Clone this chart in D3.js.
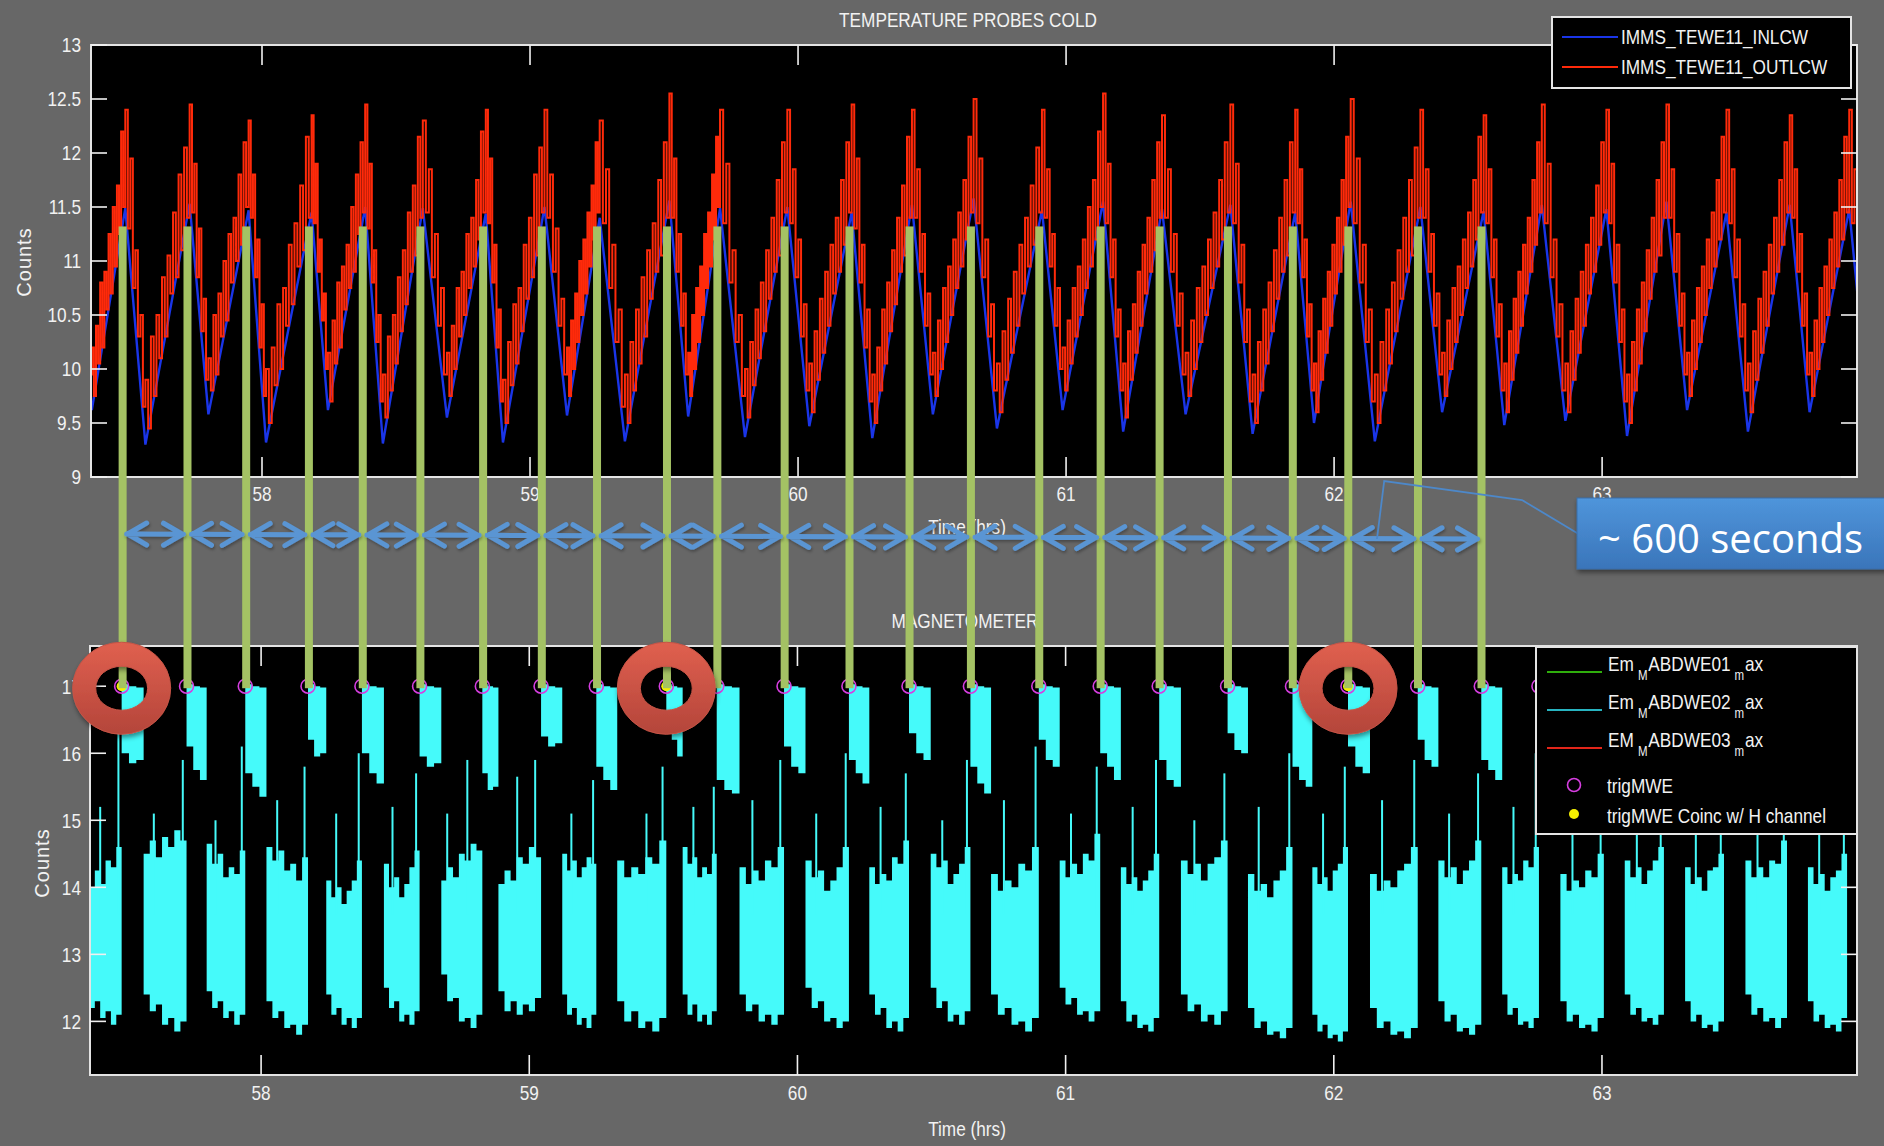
<!DOCTYPE html>
<html>
<head>
<meta charset="utf-8">
<script src="https://cdn.jsdelivr.net/npm/d3@7"></script>
<style>
  html, body { margin: 0; padding: 0; background: #676767; }
  svg { display: block; }
</style>
</head>
<body>
<svg id="chart" width="1884" height="1146"></svg>
<script>
// ---------- axis domains and tick labels ----------
const hourDomain = [57.362, 63.951];
const tempDomain = [9, 13];
const magDomain = [11.2, 17.6];
const hourTicks = [58, 59, 60, 61, 62, 63];
const tempTicks = [9, 9.5, 10, 10.5, 11, 11.5, 12, 12.5, 13];
const magTicks = [12, 13, 14, 15, 16, 17];

// ---------- temperature probes (hours, counts) ----------
// IMMS_TEWE11_INLCW: alternating peak / trough vertices
const inlcwTime = [57.260, 57.365, 57.490, 57.565, 57.730, 57.800, 57.950, 58.015, 58.185, 58.246,
  58.385, 58.451, 58.600, 58.690, 58.835, 58.899, 59.054, 59.138, 59.260, 59.354,
  59.520, 59.590, 59.709, 59.802, 59.960, 60.042, 60.200, 60.277, 60.425, 60.503,
  60.655, 60.742, 60.910, 60.987, 61.138, 61.213, 61.358, 61.446, 61.613, 61.696,
  61.855, 61.925, 62.062, 62.152, 62.322, 62.403, 62.558, 62.635, 62.775, 62.863,
  63.016, 63.093, 63.240, 63.317, 63.464, 63.544, 63.700, 63.774, 63.922, 64.000, 64.140];
const inlcwValue = [11.50, 9.62, 11.49, 9.30, 11.53, 9.58, 11.47, 9.32, 11.45, 9.62,
  11.50, 9.31, 11.49, 9.55, 11.44, 9.32, 11.50, 9.57, 11.40, 9.33,
  11.56, 9.56, 11.49, 9.37, 11.50, 9.47, 11.45, 9.36, 11.52, 9.58,
  11.58, 9.45, 11.47, 9.62, 11.55, 9.42, 11.48, 9.58, 11.52, 9.40,
  11.45, 9.50, 11.55, 9.33, 11.50, 9.60, 11.46, 9.48, 11.52, 9.52,
  11.48, 9.38, 11.55, 9.62, 11.45, 9.42, 11.52, 9.60, 11.48, 9.48, 11.50];

// IMMS_TEWE11_OUTLCW: readings per cycle, 8 on the falling leg, 16 on the rising leg
const outlcwCycles = [
  [12.35,11.45,11.80,10.95,11.20,10.35,10.75,9.95, 10.20,9.75,10.40,10.05,10.80,10.20,10.90,10.55,11.25,10.70,11.50,10.95,11.70,11.25,12.20,11.50],
  [12.40,11.30,11.95,10.75,11.10,10.30,10.50,9.65, 9.90,9.45,10.30,9.75,10.50,10.10,10.85,10.30,11.05,10.70,11.45,10.85,11.80,11.10,12.05,11.40],
  [12.45,11.45,11.90,10.85,11.30,10.35,10.65,9.90, 10.10,9.80,10.50,9.95,10.70,10.30,11.00,10.45,11.25,10.80,11.40,11.00,11.80,11.15,12.10,11.50],
  [12.30,11.40,11.80,10.85,11.20,10.20,10.60,9.75, 10.00,9.50,10.20,9.85,10.60,10.00,10.75,10.40,11.15,10.60,11.35,10.95,11.70,11.10,12.15,11.40],
  [12.35,11.35,11.90,10.90,11.20,10.45,10.70,10.00, 10.15,9.70,10.45,10.05,10.80,10.20,10.95,10.55,11.15,10.75,11.50,10.90,11.80,11.25,12.10,11.45],
  [12.45,11.30,11.90,10.80,11.10,10.25,10.50,9.70, 9.95,9.55,10.30,9.80,10.50,10.05,10.85,10.35,11.10,10.60,11.45,10.90,11.70,11.05,12.15,11.40],
  [12.30,11.45,11.85,10.85,11.25,10.40,10.75,9.95, 10.15,9.75,10.40,10.00,10.75,10.30,10.90,10.50,11.25,10.75,11.40,10.95,11.75,11.20,12.20,11.45],
  [12.40,11.35,11.95,10.80,11.15,10.20,10.55,9.70, 9.90,9.50,10.25,9.85,10.60,10.05,10.75,10.35,11.15,10.65,11.40,10.85,11.80,11.05,12.05,11.45],
  [12.40,11.40,11.80,10.90,11.30,10.40,10.65,9.95, 10.20,9.75,10.45,10.00,10.70,10.25,11.00,10.50,11.20,10.70,11.45,10.95,11.70,11.20,12.10,11.45],
  [12.30,11.35,11.85,10.75,11.15,10.25,10.55,9.65, 9.95,9.50,10.25,9.80,10.55,10.05,10.85,10.30,11.10,10.65,11.35,10.90,11.75,11.05,12.10,11.40],
  [12.55,11.40,11.95,10.90,11.25,10.40,10.70,9.95, 10.15,9.75,10.50,10.00,10.75,10.25,10.95,10.50,11.25,10.75,11.45,10.95,11.80,11.20,12.15,11.50],
  [12.40,11.35,11.90,10.80,11.10,10.25,10.50,9.75, 10.00,9.55,10.25,9.85,10.55,10.10,10.80,10.35,11.10,10.65,11.40,10.90,11.75,11.05,12.10,11.45],
  [12.40,11.35,11.85,10.85,11.20,10.30,10.60,9.80, 10.05,9.60,10.35,9.90,10.65,10.15,10.90,10.40,11.15,10.70,11.40,10.90,11.75,11.15,12.10,11.45],
  [12.45,11.30,11.95,10.80,11.15,10.20,10.55,9.70, 9.95,9.50,10.20,9.80,10.55,10.05,10.80,10.35,11.10,10.60,11.40,10.90,11.70,11.05,12.15,11.40],
  [12.40,11.40,11.85,10.90,11.25,10.40,10.70,9.95, 10.15,9.75,10.45,10.00,10.75,10.25,10.95,10.50,11.20,10.75,11.45,10.95,11.75,11.20,12.15,11.45],
  [12.50,11.35,11.95,10.85,11.20,10.30,10.60,9.80, 10.05,9.60,10.35,9.90,10.65,10.15,10.90,10.40,11.15,10.70,11.40,10.95,11.70,11.15,12.05,11.45],
  [12.40,11.40,11.85,10.95,11.25,10.40,10.75,10.00, 10.20,9.80,10.45,10.05,10.75,10.30,10.95,10.50,11.20,10.75,11.50,10.95,11.75,11.20,12.20,11.50],
  [12.55,11.35,11.90,10.85,11.20,10.30,10.55,9.80, 10.05,9.55,10.35,9.90,10.60,10.15,10.90,10.40,11.15,10.70,11.40,10.90,11.75,11.10,12.10,11.40],
  [12.35,11.40,11.85,10.90,11.25,10.40,10.70,9.95, 10.15,9.75,10.45,10.00,10.75,10.25,10.95,10.50,11.20,10.75,11.45,10.95,11.75,11.20,12.10,11.45],
  [12.45,11.35,11.90,10.80,11.15,10.25,10.55,9.70, 9.95,9.50,10.25,9.80,10.55,10.05,10.80,10.35,11.10,10.65,11.40,10.90,11.75,11.05,12.10,11.45],
  [12.40,11.35,11.85,10.85,11.20,10.30,10.60,9.80, 10.05,9.60,10.35,9.90,10.65,10.15,10.90,10.40,11.15,10.70,11.40,10.90,11.75,11.15,12.15,11.50],
  [12.50,11.35,11.95,10.80,11.15,10.25,10.55,9.70, 9.95,9.50,10.25,9.80,10.55,10.05,10.80,10.35,11.10,10.65,11.40,10.90,11.75,11.05,12.05,11.40],
  [12.40,11.40,11.85,10.90,11.25,10.40,10.70,9.95, 10.15,9.75,10.45,10.00,10.75,10.25,10.95,10.50,11.20,10.75,11.45,10.95,11.75,11.20,12.15,11.45],
  [12.35,11.35,11.85,10.85,11.20,10.30,10.60,9.80, 10.05,9.60,10.35,9.90,10.65,10.15,10.90,10.40,11.15,10.70,11.40,10.90,11.75,11.15,12.10,11.45],
  [12.45,11.35,11.90,10.85,11.20,10.30,10.60,9.80, 10.05,9.60,10.35,9.90,10.65,10.15,10.90,10.40,11.15,10.70,11.40,10.90,11.70,11.15,12.10,11.45],
  [12.40,11.35,11.90,10.80,11.15,10.25,10.55,9.70, 9.95,9.50,10.25,9.80,10.55,10.05,10.80,10.35,11.10,10.65,11.40,10.90,11.75,11.05,12.10,11.40],
  [12.45,11.40,11.85,10.90,11.25,10.40,10.70,9.95, 10.15,9.75,10.45,10.00,10.75,10.25,10.95,10.50,11.20,10.75,11.45,10.95,11.75,11.20,12.15,11.45],
  [12.40,11.35,11.85,10.85,11.20,10.30,10.60,9.80, 10.05,9.60,10.35,9.90,10.65,10.15,10.90,10.40,11.15,10.70,11.40,10.90,11.75,11.15,12.10,11.45],
  [12.35,11.40,11.85,10.90,11.25,10.40,10.70,9.95, 10.15,9.75,10.45,10.00,10.75,10.25,10.95,10.50,11.20,10.75,11.45,10.95,11.75,11.20,12.15,11.45],
  [12.40,11.35,11.85,10.85,11.20,10.30,10.60,9.80, 10.05,9.60,10.35,9.90,10.65,10.15,10.90,10.40,11.15,10.70,11.40,10.90,11.75,11.15,12.10,11.45]
];

// ---------- magnetometer EmABDWE02 envelope, one cycle per trigger ----------
const cycleStart = [57.260, 57.480, 57.722, 57.941, 58.175, 58.376, 58.591, 58.825, 59.044, 59.250,
  59.511, 59.699, 59.950, 60.192, 60.416, 60.645, 60.900, 61.129, 61.349, 61.604,
  61.846, 62.053, 62.313, 62.550, 62.765, 63.007, 63.231, 63.455, 63.690, 63.914, 64.140];
const magDrop = [57.340, 57.562, 57.797, 58.020, 58.243, 58.458, 58.672, 58.885, 59.123, 59.328,
  59.572, 59.784, 60.030, 60.268, 60.497, 60.722, 60.978, 61.206, 61.430, 61.680,
  61.920, 62.135, 62.390, 62.628, 62.845, 63.085, 63.310, 63.535, 63.768, 63.995];
const magCeiling = [17.03, 17.0, 16.98, 16.96];
const magPeakFloor = [
  [16.1,15.95,15.7,15.6], [16.0,15.85,15.9,15.8], [16.1,15.75,15.6,15.4], [15.7,15.5,15.35,15.2],
  [16.2,15.95,16.0,15.8], [16.0,15.7,15.55,15.3], [15.95,15.8,15.85,15.75], [15.7,15.45,15.5,15.3],
  [16.25,16.1,16.15,16.05], [15.8,15.6,15.45,15.35], [16.6,16.2,15.95,15.7], [15.6,15.45,15.4,15.3],
  [16.1,15.8,15.7,15.5], [15.9,15.7,15.55,15.4], [16.3,16.0,15.9,15.7], [15.8,15.55,15.4,15.2],
  [16.2,15.9,15.8,15.6], [16.0,15.8,15.6,15.5], [15.9,15.6,15.5,15.3], [16.3,16.05,16.0,15.8],
  [15.8,15.6,15.5,15.4], [16.1,15.8,15.7,15.5], [16.2,15.9,15.8,15.6], [15.9,15.75,15.6,15.5],
  [16.0,15.7,15.6,15.4], [16.2,15.95,15.85,15.7], [15.9,15.6,15.5,15.3], [16.1,15.85,15.75,15.6],
  [16.0,15.75,15.65,15.5], [16.1,15.85,15.75,15.6]];
const magBandTop = [
  [14.3,14.0,14.25,14.05,14.4,14.3,14.6,14.45], [14.5,14.7,14.45,14.75,14.6,14.85,14.7,14.95],
  [14.65,14.35,14.5,14.15,14.3,14.2,14.55,14.45], [14.6,14.4,14.55,14.25,14.35,14.1,14.45,14.3],
  [14.1,13.85,14.0,13.75,13.95,14.1,14.4,14.3], [14.35,14.0,14.15,13.85,14.05,14.3,14.55,14.4],
  [14.1,14.3,14.15,14.5,14.4,14.65,14.55,14.9], [14.05,14.25,14.1,14.45,14.35,14.6,14.45,14.55],
  [14.5,14.25,14.4,14.15,14.3,14.45,14.35,14.6], [14.4,14.15,14.3,14.2,14.45,14.35,14.7,14.55],
  [14.6,14.35,14.45,14.15,14.3,14.2,14.5,14.4], [14.3,14.05,14.25,14.1,14.4,14.3,14.6,14.5],
  [14.4,14.15,14.25,13.95,14.1,14.3,14.6,14.45], [14.3,14.05,14.2,14.1,14.45,14.35,14.7,14.55],
  [14.5,14.3,14.4,14.05,14.2,14.35,14.6,14.45], [14.2,13.95,14.1,14.0,14.35,14.25,14.6,14.45],
  [14.4,14.15,14.35,14.2,14.5,14.4,14.8,14.6], [14.3,14.05,14.15,13.95,14.1,14.25,14.5,14.35],
  [14.4,14.2,14.35,14.1,14.35,14.45,14.7,14.55], [14.2,13.95,14.05,13.85,14.1,14.25,14.6,14.4],
  [14.3,14.05,14.15,13.95,14.25,14.35,14.6,14.45], [14.2,13.95,14.1,14.0,14.25,14.35,14.6,14.45],
  [14.4,14.15,14.3,14.05,14.25,14.4,14.7,14.5], [14.3,14.05,14.2,14.1,14.4,14.3,14.6,14.45],
  [14.2,13.95,14.1,14.0,14.25,14.15,14.5,14.35], [14.4,14.15,14.3,14.05,14.25,14.4,14.6,14.45],
  [14.3,14.05,14.15,13.95,14.25,14.3,14.5,14.4], [14.4,14.15,14.3,14.15,14.4,14.35,14.7,14.5],
  [14.3,14.05,14.2,13.95,14.15,14.25,14.5,14.35], [14.4,14.15,14.3,14.05,14.25,14.4,14.6,14.45]];
const magBandBottom = [
  [12.4,12.2,12.3,12.05,12.15,11.95,12.1,12.25], [12.4,12.15,12.25,11.95,12.05,11.85,12.0,12.3],
  [12.45,12.2,12.3,12.05,12.15,11.95,12.1,12.3], [12.3,12.05,12.15,11.9,11.95,11.8,11.95,12.2],
  [12.4,12.1,12.2,11.95,12.05,11.9,12.05,12.3], [12.5,12.2,12.3,12.0,12.1,11.95,12.15,12.3],
  [12.7,12.3,12.35,12.0,12.05,11.9,12.1,12.3], [12.45,12.15,12.3,12.1,12.25,12.15,12.35,12.4],
  [12.4,12.1,12.2,11.95,12.05,11.9,12.1,12.2], [12.3,12.0,12.15,11.9,12.0,11.85,12.05,12.2],
  [12.4,12.1,12.25,12.0,12.1,11.95,12.15,12.3], [12.4,12.15,12.25,12.0,12.1,11.95,12.1,12.3],
  [12.5,12.2,12.3,12.0,12.05,11.9,12.0,12.2], [12.4,12.1,12.2,11.9,12.0,11.85,12.05,12.2],
  [12.5,12.2,12.3,12.0,12.1,11.95,12.15,12.3], [12.4,12.1,12.2,11.95,12.0,11.85,12.05,12.2],
  [12.5,12.25,12.35,12.1,12.15,12.0,12.15,12.3], [12.3,12.0,12.1,11.9,11.95,11.85,12.05,12.2],
  [12.4,12.15,12.25,12.0,12.1,11.95,12.15,12.3], [12.2,11.9,12.0,11.8,11.85,11.75,11.9,12.1],
  [12.1,11.85,11.95,11.75,11.8,11.7,11.85,12.0], [12.2,11.9,12.0,11.8,11.85,11.75,11.9,12.1],
  [12.3,12.0,12.1,11.85,11.9,11.8,11.95,12.2], [12.4,12.1,12.2,11.95,12.0,11.9,12.05,12.2],
  [12.3,12.0,12.1,11.9,11.95,11.85,12.05,12.2], [12.4,12.1,12.2,12.0,12.05,11.95,12.1,12.25],
  [12.3,12.0,12.1,11.9,11.95,11.85,12.0,12.2], [12.4,12.1,12.2,12.0,12.05,11.9,12.05,12.2],
  [12.3,12.0,12.1,11.9,11.95,11.85,12.05,12.2], [12.4,12.1,12.2,12.0,12.05,11.9,12.05,12.2]];
// isolated excursions above the band
const magSpikeTime = [57.400, 57.468, 57.600, 57.708, 57.830, 57.928, 58.060, 58.162, 58.280, 58.364,
  58.490, 58.578, 58.694, 58.769, 58.955, 59.022, 59.157, 59.238, 59.437, 59.497,
  59.612, 59.688, 59.832, 59.936, 60.070, 60.180, 60.310, 60.404, 60.540, 60.632,
  60.770, 60.888, 61.020, 61.116, 61.250, 61.337, 61.480, 61.592, 61.720, 61.834,
  61.960, 62.041, 62.180, 62.300, 62.430, 62.538, 62.670, 62.753, 62.890, 62.995,
  63.130, 63.219, 63.350, 63.443, 63.580, 63.678, 63.810, 63.902];
const magSpikeTop = [15.2, 16.3, 15.1, 15.9, 15.0, 16.1, 15.3, 15.8, 15.1, 16.0,
  15.2, 15.7, 15.1, 15.9, 15.65, 15.9, 15.1, 15.6, 15.1, 15.8,
  15.2, 15.5, 15.3, 15.9, 15.1, 16.0, 15.2, 15.7, 15.0, 15.9,
  15.3, 16.1, 15.1, 15.8, 15.2, 15.9, 15.0, 15.7, 15.2, 16.0,
  15.1, 15.8, 15.3, 15.9, 15.1, 15.7, 15.2, 16.0, 15.1, 15.8,
  15.2, 15.9, 15.0, 15.7, 15.2, 16.0, 15.1, 15.8];
const magSpikeBase = 13.6;

// ---------- triggers ----------
const trigTimes = [57.480, 57.722, 57.941, 58.175, 58.376, 58.591, 58.825, 59.044, 59.250, 59.511,
  59.699, 59.950, 60.192, 60.416, 60.645, 60.900, 61.129, 61.349, 61.604, 61.846,
  62.053, 62.313, 62.550, 62.765];
const trigLevel = 17.0;
const coincTimes = [57.480, 59.511, 62.053];
// triggers picked out with vertical markers, linked by spacing arrows
const markedTriggers = trigTimes.slice(0, 23);
const markerTopTemp = 11.32;
const spacingNote = "~ 600 seconds";

// ---------- legends ----------
const tempSeries = [
  { name: "IMMS_TEWE11_INLCW", color: "#1a35e8" },
  { name: "IMMS_TEWE11_OUTLCW", color: "#ff2a0a" }
];
const magSeries = [
  { pre: "Em", mid: "ABDWE01", color: "#2fae0c" },
  { pre: "Em", mid: "ABDWE02", color: "#27b3c0" },
  { pre: "EM", mid: "ABDWE03", color: "#e2261a" }
];

// ---------- layout ----------
const topBox = { l: 91, r: 1857, t: 45, b: 477 };
const botBox = { l: 90, r: 1857, t: 646, b: 1075 };
const squeeze = 0.82;
const font = "'Liberation Sans', Arial, sans-serif";
const ink = "#f2f2f2";
const cyan = "#45fafa";

const svg = d3.select("#chart");
const defs = svg.append("defs");

const xTop = d3.scaleLinear().domain(hourDomain).range([topBox.l, topBox.r]);
const xBot = d3.scaleLinear().domain(hourDomain).range([botBox.l, botBox.r]);
const yTemp = d3.scaleLinear().domain(tempDomain).range([topBox.b, topBox.t]);
const yMag = d3.scaleLinear().domain(magDomain).range([botBox.b, botBox.t]);

// filters and gradients
const shadow = defs.append("filter").attr("id", "shadow")
  .attr("x", "-30%").attr("y", "-30%").attr("width", "160%").attr("height", "170%");
shadow.append("feDropShadow").attr("dx", 1).attr("dy", 3).attr("stdDeviation", 2.5)
  .attr("flood-color", "#000").attr("flood-opacity", 0.45);
const soft = defs.append("filter").attr("id", "soft")
  .attr("x", "-5%").attr("y", "-50%").attr("width", "110%").attr("height", "200%");
soft.append("feDropShadow").attr("dx", 1).attr("dy", 2).attr("stdDeviation", 1.5)
  .attr("flood-color", "#000").attr("flood-opacity", 0.3);

const ringGrad = defs.append("linearGradient").attr("id", "ringGrad")
  .attr("x1", 0).attr("y1", 0).attr("x2", 0).attr("y2", 1);
ringGrad.append("stop").attr("offset", "0%").attr("stop-color", "#e0604f");
ringGrad.append("stop").attr("offset", "100%").attr("stop-color", "#b4453a");

const boxGrad = defs.append("linearGradient").attr("id", "boxGrad")
  .attr("x1", 0).attr("y1", 0).attr("x2", 0).attr("y2", 1);
boxGrad.append("stop").attr("offset", "0%").attr("stop-color", "#4f95db");
boxGrad.append("stop").attr("offset", "100%").attr("stop-color", "#3a75ba");

defs.append("clipPath").attr("id", "clipTop").append("rect")
  .attr("x", topBox.l).attr("y", topBox.t).attr("width", topBox.r - topBox.l).attr("height", topBox.b - topBox.t);
defs.append("clipPath").attr("id", "clipBot").append("rect")
  .attr("x", botBox.l).attr("y", botBox.t).attr("width", botBox.r - botBox.l).attr("height", botBox.b - botBox.t);

// condensed text helper
function label(parent, x, y, s, anchor, size) {
  return parent.append("text")
    .attr("transform", `translate(${x},${y}) scale(${squeeze},1)`)
    .attr("text-anchor", anchor || "middle")
    .attr("dy", "0.35em")
    .attr("font-family", font)
    .attr("font-size", size || 21)
    .attr("fill", ink)
    .text(s);
}

function frame(g, box, xs, ys, yTicks, xLabelY) {
  g.append("rect").attr("x", box.l).attr("y", box.t)
    .attr("width", box.r - box.l).attr("height", box.b - box.t)
    .attr("fill", "none").attr("stroke", "#e4e4e4").attr("stroke-width", 2);
  const tk = g.append("g").attr("stroke", "#f0f0f0").attr("stroke-width", 1.6);
  hourTicks.forEach(h => {
    const px = xs(h);
    tk.append("line").attr("x1", px).attr("x2", px).attr("y1", box.b).attr("y2", box.b - 20);
    tk.append("line").attr("x1", px).attr("x2", px).attr("y1", box.t).attr("y2", box.t + 20);
    label(g, px, xLabelY, String(h));
  });
  yTicks.forEach(v => {
    const py = ys(v);
    tk.append("line").attr("x1", box.l).attr("x2", box.l + 16).attr("y1", py).attr("y2", py);
    tk.append("line").attr("x1", box.r).attr("x2", box.r - 16).attr("y1", py).attr("y2", py);
    label(g, 81, py, String(v), "end");
  });
}

// ================= temperature panel =================
const gTop = svg.append("g");
gTop.append("rect").attr("x", topBox.l).attr("y", topBox.t)
  .attr("width", topBox.r - topBox.l).attr("height", topBox.b - topBox.t).attr("fill", "#000");

const inlcw = inlcwTime.map((t, i) => ({ t, v: inlcwValue[i] }));
const outlcw = [];
outlcwCycles.forEach((vals, j) => {
  const tp = inlcwTime[2 * j], tt = inlcwTime[2 * j + 1], tn = inlcwTime[2 * j + 2];
  vals.forEach((v, k) => {
    const t = k < 8 ? tp + (k / 8) * (tt - tp) : tt + ((k - 8) / 16) * (tn - tt);
    outlcw.push({ t, v });
  });
});
outlcw.push({ t: inlcwTime[inlcwTime.length - 1], v: outlcwCycles[0][0] });

const dataTop = gTop.append("g").attr("clip-path", "url(#clipTop)");
dataTop.append("path").datum(inlcw)
  .attr("d", d3.line().x(d => xTop(d.t)).y(d => yTemp(d.v)))
  .attr("fill", "none").attr("stroke", tempSeries[0].color).attr("stroke-width", 2.4);
dataTop.append("path").datum(outlcw)
  .attr("d", d3.line().curve(d3.curveStepAfter).x(d => xTop(d.t)).y(d => yTemp(d.v)))
  .attr("fill", "none").attr("stroke", tempSeries[1].color).attr("stroke-width", 2);

frame(gTop, topBox, xTop, yTemp, tempTicks, 494);
label(gTop, 968, 20, "TEMPERATURE PROBES COLD");
label(gTop, 967, 527, "Time (hrs)");
gTop.append("text").attr("transform", "translate(24,262) rotate(-90)")
  .attr("text-anchor", "middle").attr("dy", "0.35em")
  .attr("font-family", font).attr("font-size", 20).attr("fill", ink).attr("letter-spacing", 1)
  .text("Counts");

// temperature legend
const lgT = svg.append("g");
lgT.append("rect").attr("x", 1552).attr("y", 17).attr("width", 299).attr("height", 71)
  .attr("fill", "#000").attr("stroke", "#e4e4e4").attr("stroke-width", 2);
tempSeries.forEach((s, i) => {
  const yy = 37 + i * 30;
  lgT.append("line").attr("x1", 1562).attr("x2", 1618).attr("y1", yy).attr("y2", yy)
    .attr("stroke", s.color).attr("stroke-width", 2.2);
  label(lgT, 1621, yy, s.name, "start");
});

// ================= magnetometer panel =================
const gBot = svg.append("g");
gBot.append("rect").attr("x", botBox.l).attr("y", botBox.t)
  .attr("width", botBox.r - botBox.l).attr("height", botBox.b - botBox.t).attr("fill", "#000");
const dataBot = gBot.append("g").attr("clip-path", "url(#clipBot)");

const bandArea = d3.area().curve(d3.curveStepAfter)
  .x(d => xBot(d.t)).y0(d => yMag(d.lo)).y1(d => yMag(d.hi));
magDrop.forEach((drop, j) => {
  const t0 = cycleStart[j], t1 = cycleStart[j + 1];
  const pts = magPeakFloor[j].map((lo, m) => ({ t: t0 + (m / 3) * (drop - t0), lo, hi: magCeiling[m] }));
  const n = magBandTop[j].length - 1;
  magBandTop[j].forEach((hi, m) => {
    pts.push({ t: drop + (m / n) * (t1 - drop), lo: magBandBottom[j][m], hi });
  });
  dataBot.append("path").datum(pts).attr("d", bandArea).attr("fill", cyan);
});
dataBot.append("g").attr("stroke", cyan).attr("stroke-width", 2)
  .selectAll("line").data(magSpikeTime).join("line")
  .attr("x1", d => xBot(d)).attr("x2", d => xBot(d))
  .attr("y1", yMag(magSpikeBase)).attr("y2", (d, i) => yMag(magSpikeTop[i]));

// trigger markers
dataBot.selectAll("circle.trig").data(trigTimes).join("circle").attr("class", "trig")
  .attr("cx", d => xBot(d)).attr("cy", yMag(trigLevel)).attr("r", 7)
  .attr("fill", "none").attr("stroke", "#d63ee0").attr("stroke-width", 1.6);
dataBot.selectAll("circle.coinc").data(coincTimes).join("circle").attr("class", "coinc")
  .attr("cx", d => xBot(d)).attr("cy", yMag(trigLevel)).attr("r", 5)
  .attr("fill", "#f5f000");

frame(gBot, botBox, xBot, yMag, magTicks, 1093);
label(gBot, 965, 621, "MAGNETOMETER");
label(gBot, 967, 1129, "Time (hrs)");
gBot.append("text").attr("transform", "translate(42,863) rotate(-90)")
  .attr("text-anchor", "middle").attr("dy", "0.35em")
  .attr("font-family", font).attr("font-size", 20).attr("fill", ink).attr("letter-spacing", 1)
  .text("Counts");

// magnetometer legend
const lgB = svg.append("g");
lgB.append("rect").attr("x", 1536).attr("y", 647).attr("width", 321).attr("height", 187)
  .attr("fill", "#000").attr("stroke", "#e4e4e4").attr("stroke-width", 2);
magSeries.forEach((s, i) => {
  const yy = 672 + i * 38;
  lgB.append("line").attr("x1", 1547).attr("x2", 1602).attr("y1", yy).attr("y2", yy)
    .attr("stroke", s.color).attr("stroke-width", 2.2);
  const t = lgB.append("text")
    .attr("transform", `translate(1608,${yy - 1}) scale(${squeeze},1)`)
    .attr("font-family", font).attr("font-size", 21).attr("fill", ink);
  t.append("tspan").text(s.pre);
  t.append("tspan").attr("dx", 5).attr("dy", 9).attr("font-size", 14).text("M");
  t.append("tspan").attr("dx", 1).attr("dy", -9).text(s.mid);
  t.append("tspan").attr("dx", 5).attr("dy", 9).attr("font-size", 14).text("m");
  t.append("tspan").attr("dx", 1).attr("dy", -9).text("ax");
});
lgB.append("circle").attr("cx", 1574).attr("cy", 785).attr("r", 6.5)
  .attr("fill", "none").attr("stroke", "#d63ee0").attr("stroke-width", 1.6);
label(lgB, 1607, 786, "trigMWE", "start");
lgB.append("circle").attr("cx", 1574).attr("cy", 814).attr("r", 5).attr("fill", "#f5f000");
label(lgB, 1607, 816, "trigMWE Coinc w/ H channel", "start");

// ================= overlays =================
// vertical markers joining temperature peaks to magnetometer triggers
const overlay = svg.append("g");
overlay.selectAll("rect.marker").data(markedTriggers).join("rect").attr("class", "marker")
  .attr("x", d => xTop(d) - 4).attr("width", 8)
  .attr("y", yTemp(markerTopTemp))
  .attr("height", yMag(trigLevel) + 2 - yTemp(markerTopTemp))
  .attr("fill", "#a4c264");

// spacing arrows between consecutive marked triggers
const arrowY = d3.scaleLinear().domain([xTop(markedTriggers[0]), xTop(markedTriggers[markedTriggers.length - 1])]).range([534, 539]);
const arrows = overlay.append("g").attr("filter", "url(#soft)")
  .attr("fill", "none").attr("stroke", "#5a95d3").attr("stroke-width", 5)
  .attr("stroke-linecap", "round").attr("stroke-linejoin", "round");
d3.pairs(markedTriggers).forEach(([a, b]) => {
  const xa = xTop(a) + 4, xb = xTop(b) - 4;
  const ya = arrowY(xa), yb = arrowY(xb);
  arrows.append("path").attr("d",
    `M${xa},${ya}L${xb},${yb}` +
    `M${xa + 20},${ya - 11}L${xa + 1},${ya}L${xa + 20},${ya + 11}` +
    `M${xb - 20},${yb - 11}L${xb - 1},${yb}L${xb - 20},${yb + 11}`);
});

// rings around the coincident triggers
function ringPath(cx, cy) {
  const ro = [49, 46], ri = [26, 22];
  return `M${cx - ro[0]},${cy}a${ro[0]},${ro[1]} 0 1,0 ${2 * ro[0]},0a${ro[0]},${ro[1]} 0 1,0 ${-2 * ro[0]},0Z` +
         `M${cx - ri[0]},${cy}a${ri[0]},${ri[1]} 0 1,0 ${2 * ri[0]},0a${ri[0]},${ri[1]} 0 1,0 ${-2 * ri[0]},0Z`;
}
overlay.selectAll("path.ring").data(coincTimes).join("path").attr("class", "ring")
  .attr("d", d => ringPath(xBot(d), yMag(trigLevel) + 2))
  .attr("fill-rule", "evenodd").attr("fill", "url(#ringGrad)")
  .attr("stroke", "#c65446").attr("stroke-width", 1)
  .attr("filter", "url(#shadow)");

// callout with leader line
const leaderHours = [62.160, 62.187, 62.701, 62.925];
const leaderY = [539, 481, 500, 536];
overlay.append("path")
  .attr("d", d3.line()(leaderHours.map((h, i) => [xTop(h), leaderY[i]])))
  .attr("fill", "none").attr("stroke", "#4d88c9").attr("stroke-width", 1.8);
overlay.append("rect").attr("x", 1577).attr("y", 498).attr("width", 330).attr("height", 71)
  .attr("fill", "url(#boxGrad)").attr("stroke", "#3a6eaa").attr("stroke-width", 1)
  .attr("filter", "url(#shadow)");
overlay.append("text").attr("x", 1598).attr("y", 553)
  .attr("font-family", "'Open Sans', Lato, sans-serif").attr("font-size", 40)
  .attr("fill", "#ffffff").text(spacingNote);
</script>
</body>
</html>
